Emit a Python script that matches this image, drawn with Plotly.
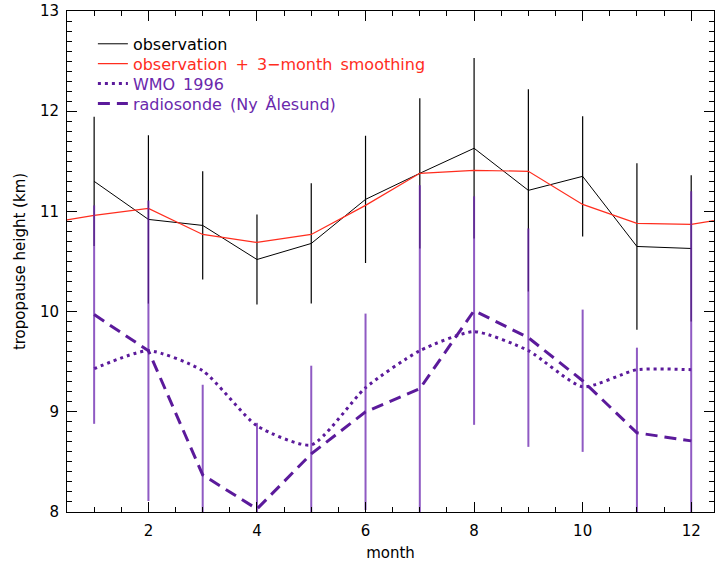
import plotly.graph_objects as go

# Monthly tropopause heights (km)
months = [1, 2, 3, 4, 5, 6, 7, 8, 9, 10, 11, 12]
obs = [11.30, 10.92, 10.86, 10.52, 10.68, 11.12, 11.38, 11.63, 11.21, 11.35, 10.65, 10.63]
obs_err = [0.645, 0.84, 0.54, 0.45, 0.60, 0.635, 0.75, 0.90, 1.01, 0.60, 0.83, 0.73]
smooth = [10.96, 11.03, 10.77, 10.69, 10.77, 11.06, 11.38, 11.41, 11.40, 11.07, 10.88, 10.87]
wmo = [9.43, 9.61, 9.41, 8.86, 8.67, 9.24, 9.61, 9.80, 9.61, 9.25, 9.42, 9.42]
sonde = [9.97, 9.61, 8.37, 8.03, 8.58, 9.00, 9.23, 10.01, 9.74, 9.31, 8.79, 8.71]
sonde_err = [1.09, 1.50, 0.90, 0.86, 0.88, 0.98, 2.03, 1.14, 1.09, 0.71, 0.85, 2.49]
x_ticks = [2, 4, 6, 8, 10, 12]
y_ticks = [8, 9, 10, 11, 12, 13]

BLACK = "#000000"
RED = "#FF2D1E"
PURPLE = "#5B1A9B"
PURPLE_TXT = "#6A28AC"
PURPLE_BAR = "rgba(105,35,175,0.75)"
FONT = "DejaVu Sans"
SP = "\u2002"  # wide word spacing in the key

# the smoothed cycle wraps around the year (Dec before Jan, Jan after Dec)
smooth_x = [0] + months + [13]
smooth_y = [smooth[-1]] + smooth + [smooth[0]]

fig = go.Figure()

fig.add_trace(go.Scatter(
    x=months, y=obs, mode="lines",
    line=dict(color=BLACK, width=1),
    error_y=dict(type="data", array=obs_err, color=BLACK, thickness=1.2, width=0),
    name="observation", legend="legend",
))
fig.add_trace(go.Scatter(
    x=smooth_x, y=smooth_y, mode="lines",
    line=dict(color=RED, width=1.2),
    name=f'<span style="color:{RED}">observation{SP}+{SP}3\u2212month{SP}smoothing</span>',
    legend="legend2",
))
fig.add_trace(go.Scatter(
    x=months, y=wmo, mode="lines",
    line=dict(color=PURPLE, width=3, dash="3px,4px", shape="spline", smoothing=0.6),
    name=f'<span style="color:{PURPLE_TXT}">WMO{SP}1996</span>',
    legend="legend3",
))
fig.add_trace(go.Scatter(
    x=months, y=sonde, mode="lines",
    line=dict(color=PURPLE, width=3, dash="12px,7px"),
    error_y=dict(type="data", array=sonde_err, color=PURPLE_BAR, thickness=2, width=0),
    name=f'<span style="color:{PURPLE_TXT}">radiosonde{SP}(Ny{SP}\u00c5lesund)</span>',
    legend="legend4",
))

axis_common = dict(
    showline=True, linecolor=BLACK, linewidth=1, mirror="ticks",
    ticks="inside", ticklen=10, tickwidth=1, tickcolor=BLACK,
    showgrid=False, zeroline=False, ticklabeloverflow="allow",
    tickfont=dict(family=FONT, size=15, color=BLACK),
)

fig.update_xaxes(
    range=[0.5, 12.42], tickvals=x_ticks, ticklabelstandoff=5,
    minor=dict(dtick=0.5, tick0=0, ticks="inside", ticklen=5, tickcolor=BLACK, showgrid=False),
    title=dict(text="month", font=dict(family=FONT, size=15, color=BLACK), standoff=8),
    **axis_common,
)
fig.update_yaxes(
    range=[8, 13], tickvals=y_ticks, ticklabelstandoff=4,
    minor=dict(dtick=0.1, tick0=8, ticks="inside", ticklen=5, tickcolor=BLACK, showgrid=False),
    title=dict(text="tropopause height (km)", font=dict(family=FONT, size=15, color=BLACK), standoff=10),
    **axis_common,
)

# one legend box per entry so the rows sit at a fixed spacing
legend_rows = {"legend": 0.9683, "legend2": 0.9286, "legend3": 0.8890, "legend4": 0.8493}
legend_style = dict(
    x=0.040, xanchor="left", yanchor="top",
    bgcolor="rgba(0,0,0,0)", borderwidth=0,
    font=dict(family=FONT, size=16, color=BLACK),
    itemwidth=30,
)

fig.update_layout(
    width=717, height=562,
    margin=dict(l=67, r=2, t=8, b=50),
    paper_bgcolor="white", plot_bgcolor="white",
    showlegend=True,
    **{name: dict(y=yy, **legend_style) for name, yy in legend_rows.items()},
)

fig.write_html("out.html")
